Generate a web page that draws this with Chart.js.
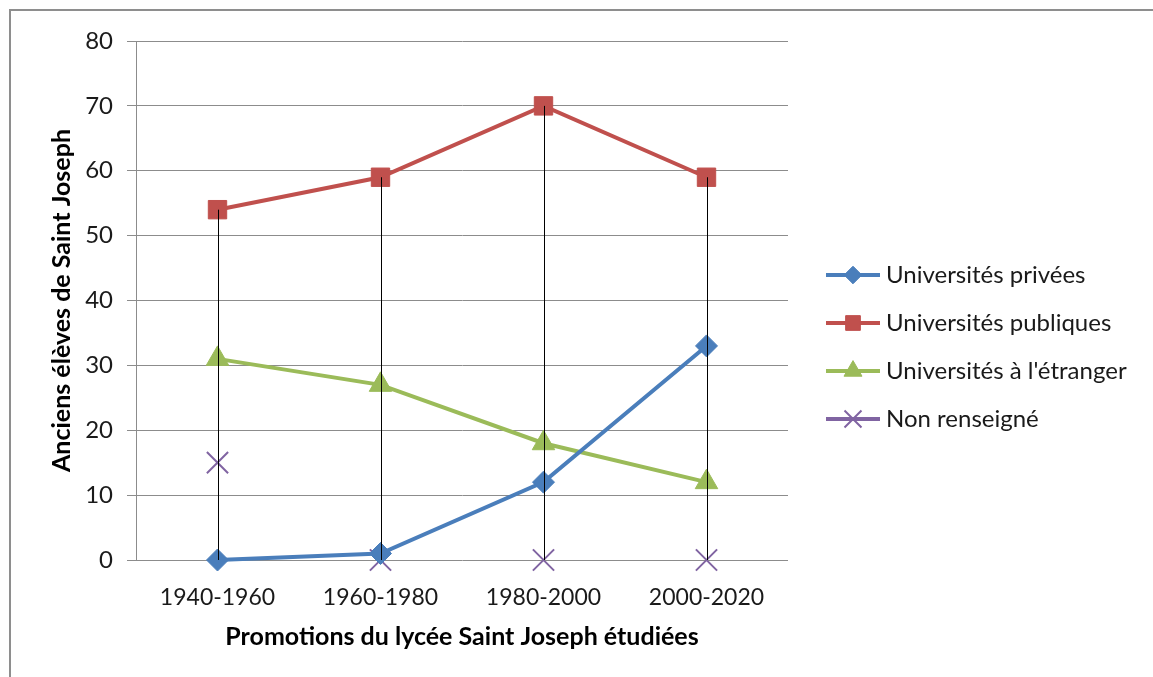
<!DOCTYPE html>
<html lang="fr">
<head>
  <meta charset="UTF-8">
  <title>Anciens élèves de Saint Joseph</title>
  <style>
    body { margin: 0; background: #fff; overflow: hidden; }
    .cadre { position: absolute; left: 9px; top: 9px; width: 1200px; height: 720px; border: 2px solid #8e8e8e; }
    canvas { position: absolute; left: 0; top: 0; }
  </style>
</head>
<body>
  <div class="cadre"></div>
  <canvas id="graphique" width="1153" height="677"></canvas>

  <script src="https://cdn.jsdelivr.net/npm/chart.js"></script>
  <script>
    const promotions = ['1940-1960', '1960-1980', '1980-2000', '2000-2020'];
    const privees = [0, 1, 12, 33];
    const publiques = [54, 59, 70, 59];
    const etranger = [31, 27, 18, 12];
    const nonRenseigne = [15, 0, 0, 0];

    const police = 'Lato, "Open Sans", sans-serif';

    // lignes haut-bas noires entre le min et le max de chaque promotion
    const lignesHautBas = {
      id: 'lignesHautBas',
      afterDatasetsDraw(chart) {
        const ctx = chart.ctx;
        const x = chart.scales.x, y = chart.scales.y;
        ctx.save();
        ctx.strokeStyle = '#000';
        ctx.lineWidth = 1;
        chart.data.labels.forEach((lab, i) => {
          const vals = chart.data.datasets.map(d => d.data[i]);
          const px = Math.round(x.getPixelForValue(i)) + 0.5;
          ctx.beginPath();
          ctx.moveTo(px, y.getPixelForValue(Math.max(...vals)));
          ctx.lineTo(px, y.getPixelForValue(Math.min(...vals)));
          ctx.stroke();
        });
        ctx.restore();
      }
    };

    // légende à droite : trait + marqueur
    const legende = {
      id: 'legende',
      afterDraw(chart) {
        const ctx = chart.ctx;
        ctx.save();
        chart.data.datasets.forEach((d, i) => {
          const yy = 275 + i * 48;
          ctx.strokeStyle = d.borderColor;
          ctx.lineWidth = 4;
          ctx.beginPath();
          ctx.moveTo(826, yy);
          ctx.lineTo(880, yy);
          ctx.stroke();
          ctx.fillStyle = d.backgroundColor;
          ctx.strokeStyle = d.pointBorderColor || d.borderColor;
          ctx.lineWidth = d.pointBorderWidth || 1;
          Chart.helpers.drawPoint(ctx, {
            pointStyle: d.pointStyle,
            radius: d.pointRadius * 0.8,
            rotation: 0,
            borderWidth: d.pointBorderWidth || 1
          }, 853, yy);
          ctx.fillStyle = '#1a1a1a';
          ctx.font = '24px ' + police;
          ctx.textBaseline = 'middle';
          ctx.fillText(d.label, 886, yy);
        });
        ctx.restore();
      }
    };

    const ctx = document.getElementById('graphique').getContext('2d');
    new Chart(ctx, {
      type: 'line',
      data: {
        labels: promotions,
        datasets: [
          {
            label: 'Universités privées',
            data: privees,
            borderColor: '#4a7ebb',
            backgroundColor: '#4a7ebb',
            borderWidth: 4,
            pointStyle: 'rectRot',
            pointRadius: 11,
            pointBorderWidth: 1,
            clip: false
          },
          {
            label: 'Universités publiques',
            data: publiques,
            borderColor: '#c0504d',
            backgroundColor: '#c0504d',
            borderWidth: 4,
            pointStyle: 'rect',
            pointRadius: 13,
            pointBorderWidth: 1,
            clip: false
          },
          {
            label: "Universités à l'étranger",
            data: etranger,
            borderColor: '#9bbb59',
            backgroundColor: '#9bbb59',
            borderWidth: 4,
            pointStyle: 'triangle',
            pointRadius: 13,
            pointBorderWidth: 1,
            clip: false
          },
          {
            label: 'Non renseigné',
            data: nonRenseigne,
            borderColor: '#8064a2',
            backgroundColor: '#8064a2',
            pointBorderColor: '#8064a2',
            showLine: false,
            pointStyle: 'crossRot',
            pointRadius: 15,
            pointBorderWidth: 2,
            clip: false
          }
        ]
      },
      options: {
        responsive: false,
        animation: false,
        layout: { padding: { left: 0, right: 365, top: 41, bottom: 0 } },
        plugins: {
          legend: { display: false },
          tooltip: { enabled: false }
        },
        scales: {
          x: {
            offset: true,
            afterFit(s) { s.height = 117; },
            grid: { display: false, drawTicks: false, offset: true },
            border: { display: false },
            ticks: { color: '#1a1a1a', font: { family: police, size: 23 }, padding: 24 },
            title: {
              display: true,
              text: 'Promotions du lycée Saint Joseph étudiées',
              color: '#000',
              font: { family: police, size: 25, weight: 'bold' },
              padding: { top: 0, bottom: 25 }
            }
          },
          y: {
            min: 0,
            max: 80,
            afterFit(s) { s.width = 136; },
            grid: { color: '#8c8c8c', lineWidth: 1, tickLength: 9 },
            border: { display: true, color: '#8c8c8c', width: 1 },
            ticks: { stepSize: 10, color: '#1a1a1a', font: { family: police, size: 24 }, padding: 14 },
            title: {
              display: true,
              text: 'Anciens élèves de Saint Joseph',
              color: '#000',
              font: { family: police, size: 25, weight: 'bold' },
              padding: { top: 47, bottom: 0 }
            }
          }
        }
      },
      plugins: [lignesHautBas, legende]
    });
  </script>
</body>
</html>
